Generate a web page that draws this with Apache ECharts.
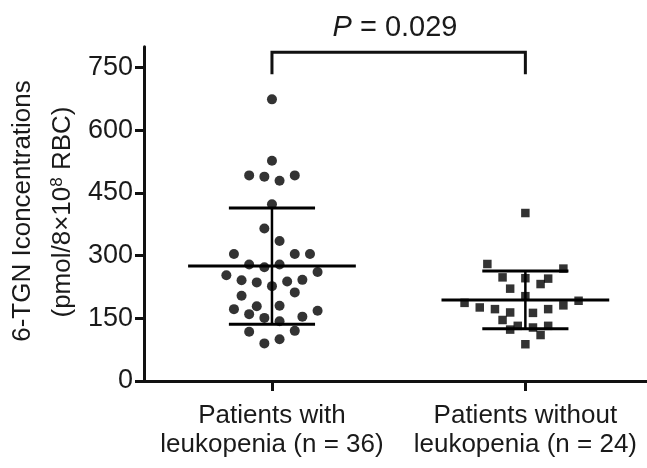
<!DOCTYPE html>
<html>
<head>
<meta charset="utf-8">
<script src="https://cdn.jsdelivr.net/npm/echarts@6/dist/echarts.min.js"></script>
<style>
html,body{margin:0;padding:0;background:#fff;}
#c{width:647px;height:468px;}
</style>
</head>
<body>
<div id="c"></div>
<script>
const categories = ['Patients with\nleukopenia (n = 36)', 'Patients without\nleukopenia (n = 24)'];
const yTicks = [0, 150, 300, 450, 600, 750];
// group 1: values and jitter columns
const leukValues = [674, 527, 492, 489, 479, 492, 423, 365, 335, 304, 304, 304, 279, 272, 279, 253, 261, 241, 236, 238, 242, 227, 212, 204, 172, 179, 180, 160, 168, 154, 151, 143, 118, 120, 90, 100];
const leukCols   = [0, 0, -3, -1, 1, 3, 0, -1, 1, -5, 3, 5, -3, -1, 1, -6, 6, -4, -2, 2, 4, 0, 3, -4, -5, -2, 1, -3, 6, 4, -1, 1, -3, 3, -1, 1];
// group 2
const noLeukValues = [402, 280, 269, 248, 246, 245, 232, 221, 203, 187, 192, 181, 176, 172, 164, 163, 172, 146, 132, 123, 128, 132, 110, 88];
const noLeukCols   = [0, -5, 5, -3, 0, 3, 2, -2, 0, -8, 7, 5, -6, -4, -2, 1, 3, -3, -1, -2, 1, 3, 2, 0];
const means = [275, 194];
const sds = [139, 69];
const bracketTop = 787;
const bracketDrop = 734;
const pText = '0.029';

const jitterStep = 0.03;
const meanHalf = 0.331;
const sdHalf = 0.17;

const leukData = leukValues.map((v, i) => [1 + leukCols[i] * jitterStep, v]);
const noLeukData = noLeukValues.map((v, i) => [2 + noLeukCols[i] * jitterStep, v]);
const statData = means.map((m, i) => [i + 1, m, sds[i]]);

const chart = echarts.init(document.getElementById('c'), null, {renderer: 'canvas'});
const FONT = 'Liberation Sans, Arial, sans-serif';
const TXT = '#1a1a1a';

chart.setOption({
  animation: false,
  backgroundColor: '#fff',
  grid: {left: 144, right: 0, top: 46.7, bottom: 87, containLabel: false},
  xAxis: {
    type: 'value', min: 0.495, max: 2.48,
    splitLine: {show: false},
    axisLine: {lineStyle: {color: '#111', width: 3}},
    axisTick: {customValues: [1, 2], length: 10, inside: false, lineStyle: {color: '#111', width: 3}},
    axisLabel: {
      customValues: [1, 2],
      formatter: v => categories[Math.round(v) - 1] || '',
      color: TXT, fontFamily: FONT, fontSize: 26, lineHeight: 29, margin: 20
    }
  },
  yAxis: {
    type: 'value', min: 0, max: 800,
    splitLine: {show: false},
    axisLine: {show: true, lineStyle: {color: '#111', width: 3}},
    axisTick: {show: true, customValues: yTicks, length: 9, lineStyle: {color: '#111', width: 3}},
    axisLabel: {customValues: yTicks, color: TXT, fontFamily: FONT, fontSize: 27, margin: 11}
  },
  graphic: [
    {
      type: 'text', x: 23, y: 211, rotation: Math.PI / 2,
      style: {text: '6-TGN Iconcentrations', fill: TXT, font: '26px ' + FONT, textAlign: 'center', textVerticalAlign: 'middle'}
    },
    {
      type: 'text', x: 63, y: 212, rotation: Math.PI / 2,
      style: {
        text: '{a|(pmol/8×10}{s|8}{a| RBC)}', textAlign: 'center', textVerticalAlign: 'middle',
        rich: {
          a: {fontFamily: FONT, fontSize: 26, fill: TXT, color: TXT},
          s: {fontFamily: FONT, fontSize: 17, fill: TXT, color: TXT, padding: [0, 0, 12, 0]}
        }
      }
    },
    {
      type: 'text', x: 395, y: 28,
      style: {
        text: '{i|P}{n| = ' + pText + '}', textAlign: 'center', textVerticalAlign: 'middle',
        rich: {
          i: {fontFamily: FONT, fontSize: 29, fontStyle: 'italic', fill: TXT, color: TXT},
          n: {fontFamily: FONT, fontSize: 29, fill: TXT, color: TXT}
        }
      }
    }
  ],
  series: [
    {
      type: 'scatter', data: leukData, symbol: 'circle', symbolSize: 10,
      itemStyle: {color: '#000'}, z: 2
    },
    {
      type: 'scatter', data: noLeukData, symbol: 'rect', symbolSize: 8.5,
      itemStyle: {color: '#000'}, z: 2
    },
    {
      type: 'custom', data: statData, z: 3, clip: false,
      renderItem: function (params, api) {
        const g = api.value(0), m = api.value(1), s = api.value(2);
        const st = {stroke: '#000', lineWidth: 3};
        const pL = api.coord([g - meanHalf, m]), pR = api.coord([g + meanHalf, m]);
        const uL = api.coord([g - sdHalf, m + s]), uR = api.coord([g + sdHalf, m + s]);
        const lL = api.coord([g - sdHalf, m - s]), lR = api.coord([g + sdHalf, m - s]);
        const vT = api.coord([g, m + s]), vB = api.coord([g, m - s]);
        return {
          type: 'group', children: [
            {type: 'line', shape: {x1: pL[0], y1: pL[1], x2: pR[0], y2: pR[1]}, style: st},
            {type: 'line', shape: {x1: uL[0], y1: uL[1], x2: uR[0], y2: uR[1]}, style: st},
            {type: 'line', shape: {x1: lL[0], y1: lL[1], x2: lR[0], y2: lR[1]}, style: st},
            {type: 'line', shape: {x1: vT[0], y1: vT[1], x2: vB[0], y2: vB[1]}, style: {stroke: '#000', lineWidth: 2.5}}
          ]
        };
      }
    },
    {
      type: 'custom', data: [[1, 2, bracketTop, bracketDrop]], z: 3, clip: false,
      renderItem: function (params, api) {
        const a = api.coord([api.value(0), api.value(3)]);
        const b = api.coord([api.value(0), api.value(2)]);
        const c = api.coord([api.value(1), api.value(2)]);
        const d = api.coord([api.value(1), api.value(3)]);
        return {
          type: 'polyline',
          shape: {points: [a, b, c, d]},
          style: {stroke: '#111', lineWidth: 3, fill: null}
        };
      }
    }
  ]
});
</script>
</body>
</html>
